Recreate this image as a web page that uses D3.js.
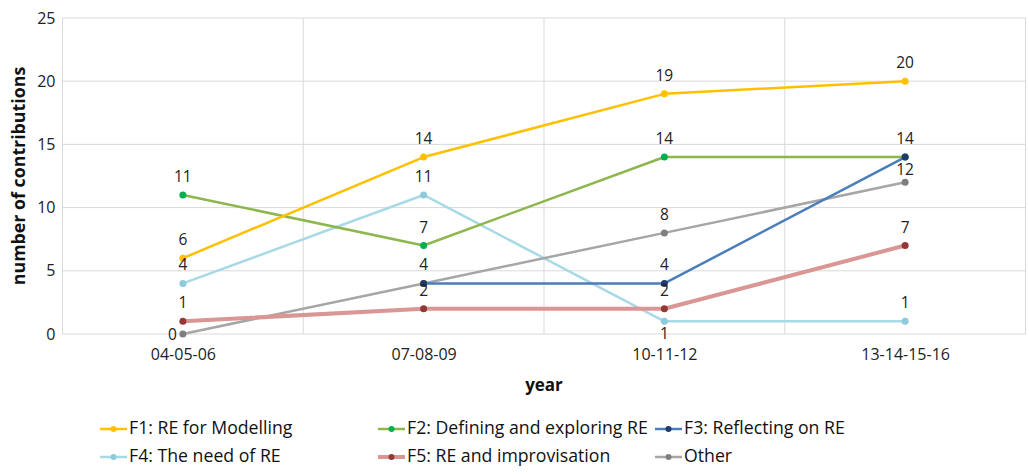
<!DOCTYPE html>
<html>
<head>
<meta charset="utf-8">
<script src="https://cdn.jsdelivr.net/npm/d3@7/dist/d3.min.js"></script>
<style>
  html, body { margin: 0; padding: 0; background: #fff; }
  svg { display: block; font-family: "Open Sans", "Noto Sans", sans-serif; }
</style>
</head>
<body>
<svg id="chart" width="1029" height="475"></svg>
<script>
// Contributions per period for each research category
const years = ["04-05-06", "07-08-09", "10-11-12", "13-14-15-16"];
const yTicks = [0, 5, 10, 15, 20, 25];

const f1 = [6, 14, 19, 20];
const f2 = [11, 7, 14, 14];
const f3 = [null, 4, 4, 14];
const f4 = [4, 11, 1, 1];
const f5 = [1, 2, 2, 7];
const other = [0, 4, 8, 12];

// Where each value label sits relative to its point ("above", "below", "left", "near", "none");
// coinciding points share a single label
const f1Pos = ["above", "above", "above", "above"];
const f2Pos = ["above", "above", "above", "none"];
const f3Pos = ["none", "none", "above", "above"];
const f4Pos = ["above", "above", "below", "above"];
const f5Pos = ["above", "above", "above", "above"];
const otherPos = ["left", "above", "above", "near"];

const seriesNames = ["F1: RE for Modelling", "F2: Defining and exploring RE", "F3: Reflecting on RE",
                     "F4: The need of RE", "F5: RE and improvisation", "Other"];

const series = [
  { name: seriesNames[0], values: f1, pos: f1Pos, line: "#FFC000", dot: "#FFC000", width: 2.5 },
  { name: seriesNames[1], values: f2, pos: f2Pos, line: "#8DB64C", dot: "#00B050", width: 2.5 },
  { name: seriesNames[2], values: f3, pos: f3Pos, line: "#4A7EBB", dot: "#1F3A6B", width: 2.5 },
  { name: seriesNames[3], values: f4, pos: f4Pos, line: "#A8D9E6", dot: "#8ECADB", width: 2.5 },
  { name: seriesNames[4], values: f5, pos: f5Pos, line: "#D99694", dot: "#953735", width: 4 },
  { name: seriesNames[5], values: other, pos: otherPos, line: "#A6A6A6", dot: "#7F7F7F", width: 2.5 }
];

const svg = d3.select("#chart");
const plotLeft = 62.5, plotRight = 1025.5, plotTop = 18, plotBottom = 334;

const x = d3.scalePoint().domain(years).range([plotLeft, plotRight]).padding(0.5);
const y = d3.scaleLinear().domain([0, 25]).range([plotBottom, plotTop]);
const step = x.step();

// Gridlines
const grid = svg.append("g");
grid.selectAll("line.h").data(yTicks).join("line")
  .attr("x1", plotLeft).attr("x2", plotRight)
  .attr("y1", d => y(d)).attr("y2", d => y(d))
  .attr("stroke", "#D9D9D9").attr("stroke-width", 1);
const bounds = d3.range(years.length + 1).map(i => plotLeft + i * step);
grid.selectAll("line.v").data(bounds).join("line")
  .attr("x1", d => d).attr("x2", d => d)
  .attr("y1", plotTop).attr("y2", plotBottom)
  .attr("stroke", "#D9D9D9").attr("stroke-width", 1);

// Axes (labels only)
const yAxis = svg.append("g").attr("transform", `translate(${plotLeft},0)`)
  .call(d3.axisLeft(y).tickValues(yTicks).tickSize(0).tickPadding(7));
yAxis.select(".domain").remove();
yAxis.selectAll("text").attr("font-size", 16).attr("fill", "#222").attr("font-family", "Open Sans");

const xAxis = svg.append("g").attr("transform", `translate(0,${plotBottom})`)
  .call(d3.axisBottom(x).tickSize(0).tickPadding(15));
xAxis.select(".domain").remove();
xAxis.selectAll("text").attr("font-size", 16).attr("fill", "#222").attr("font-family", "Open Sans");

// Axis titles
svg.append("text")
  .attr("transform", `translate(25,${(plotTop + plotBottom) / 2}) rotate(-90)`)
  .attr("text-anchor", "middle").attr("font-size", 17.8).attr("font-weight", "bold").attr("fill", "#111")
  .text("number of contributions");
svg.append("text")
  .attr("x", (plotLeft + plotRight) / 2).attr("y", 391)
  .attr("text-anchor", "middle").attr("font-size", 17).attr("font-weight", "bold").attr("fill", "#111")
  .text("year");

// Lines
const line = d3.line()
  .defined(d => d.v !== null)
  .x(d => x(d.year))
  .y(d => y(d.v));

const drawOrder = [3, 1, 0, 5, 2, 4];
drawOrder.forEach(i => {
  const s = series[i];
  const pts = years.map((yr, j) => ({ year: yr, v: s.values[j], pos: s.pos[j] }));
  const g = svg.append("g");
  g.append("path").datum(pts)
    .attr("d", line)
    .attr("fill", "none").attr("stroke", s.line).attr("stroke-width", s.width)
    .attr("stroke-linejoin", "round").attr("stroke-linecap", "round");
  g.selectAll("circle").data(pts.filter(d => d.v !== null)).join("circle")
    .attr("cx", d => x(d.year)).attr("cy", d => y(d.v))
    .attr("r", 3.5).attr("fill", s.dot);
});

// Value labels
series.forEach(s => {
  const pts = years.map((yr, j) => ({ year: yr, v: s.values[j], pos: s.pos[j] }))
    .filter(d => d.v !== null && d.pos !== "none");
  svg.append("g").selectAll("text").data(pts).join("text")
    .attr("x", d => d.pos === "left" ? x(d.year) - 6 : x(d.year))
    .attr("y", d => {
      const py = y(d.v);
      if (d.pos === "below") return py + 18;
      if (d.pos === "left") return py + 6;
      if (d.pos === "near") return py - 7;
      return py - 13;
    })
    .attr("text-anchor", d => d.pos === "left" ? "end" : "middle")
    .attr("font-size", 15.5).attr("fill", "#222")
    .text(d => d.v);
});

// Legend
const legendPos = [
  [100, 434], [378, 434], [655, 434],
  [100, 462], [378, 462], [655, 462]
];
const legend = svg.append("g");
series.forEach((s, i) => {
  const [lx, ly] = legendPos[i];
  const g = legend.append("g").attr("transform", `translate(${lx},${ly})`);
  g.append("line").attr("x1", 0).attr("x2", 27).attr("y1", -5).attr("y2", -5)
    .attr("stroke", s.line).attr("stroke-width", s.width);
  g.append("circle").attr("cx", 13.5).attr("cy", -5).attr("r", 3).attr("fill", s.dot);
  g.append("text").attr("x", 29).attr("y", 0)
    .attr("font-size", 17.7).attr("fill", "#111")
    .text(s.name);
});
</script>
</body>
</html>
